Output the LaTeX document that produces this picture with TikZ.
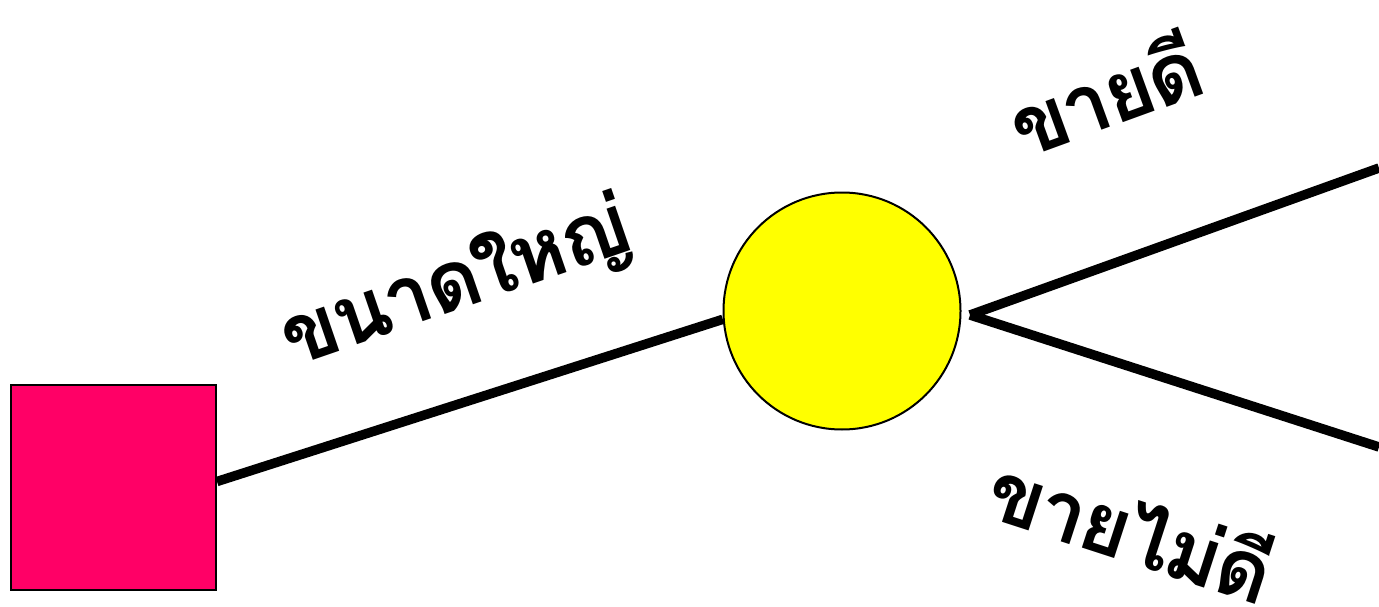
\documentclass[tikz,border=0pt]{standalone}
\usepackage{fontspec}
\newfontfamily\thaifont[Script=Thai,LetterSpace=-4]{Loma}
\usetikzlibrary{calc}
\definecolor{sqred}{HTML}{FF0066}
\definecolor{cyel}{HTML}{FFFF00}
\begin{document}
\begin{tikzpicture}[x=1pt,y=-1pt,
  branch/.style={line width=9.5pt},
  lbl/.style={font=\thaifont\bfseries\fontsize{84}{90}\selectfont, inner sep=0pt}]
\useasboundingbox (0,0) rectangle (1379,607);
\node[draw=black, line width=2pt, fill=sqred, minimum size=205pt, inner sep=0pt] (sq) at (113.5,487.5) {};
\node[draw=black, line width=2pt, fill=cyel, circle, minimum size=237pt, inner sep=0pt] (ci) at (842,311) {};
\coordinate (fork) at (970,315);
\coordinate (up) at (1379,168);
\coordinate (down) at (1379,447);
\draw[branch] ($(sq.east)+(0,-6)$) -- (ci.184);
\draw[branch] (fork) -- (up);
\draw[branch] (fork) -- (down);
\node[lbl, rotate=19] (l1) at (457,285) {ขนาดใหญ่};
\node[lbl, rotate=20] (l2) at (1104,92) {ขายดี};
\node[lbl, rotate=-18] (l3) at (1132,527) {ขายไม่ดี};
\end{tikzpicture}
\end{document}
